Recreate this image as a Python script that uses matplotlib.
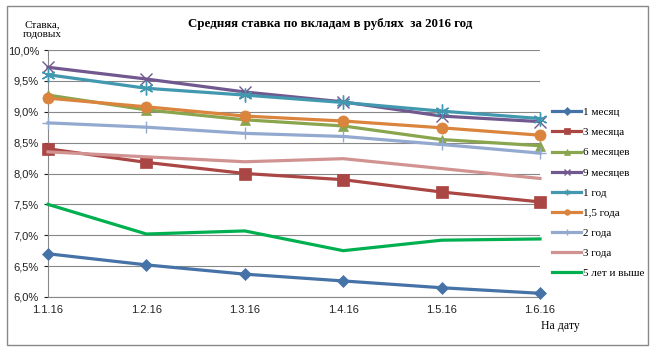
import matplotlib.pyplot as plt
import matplotlib.patches as patches

# Данные (по графику)
dates = ['1.1.16', '1.2.16', '1.3.16', '1.4.16', '1.5.16', '1.6.16']
m1 = [6.70, 6.52, 6.37, 6.26, 6.15, 6.06]
m3 = [8.40, 8.18, 8.00, 7.90, 7.70, 7.54]
m6 = [9.27, 9.03, 8.87, 8.77, 8.55, 8.45]
m9 = [9.72, 9.53, 9.32, 9.16, 8.93, 8.84]
y1 = [9.60, 9.38, 9.27, 9.15, 9.01, 8.89]
y15 = [9.22, 9.08, 8.93, 8.85, 8.74, 8.62]
y2 = [8.82, 8.75, 8.65, 8.60, 8.47, 8.33]
y3 = [8.35, 8.27, 8.19, 8.24, 8.08, 7.92]
y5 = [7.50, 7.02, 7.07, 6.75, 6.92, 6.94]

names = ['1 месяц', '3 месяца', '6 месяцев', '9 месяцев', '1 год',
         '1,5 года', '2 года', '3 года', '5 лет и выше']
series = [m1, m3, m6, m9, y1, y15, y2, y3, y5]
colors = ['#4572A7', '#AA4643', '#89A54E', '#71588F', '#4198AF',
          '#DB843D', '#93A9CF', '#D19392', '#00B050']
markers = ['D', 's', '^', 'x', (6, 2, 0), 'o', '+', None, None]
msizes = [6, 8, 7, 9, 10, 8, 9, 0, 0]

serif = 'Liberation Serif'
sans = 'Liberation Sans'

fig = plt.figure(figsize=(6.6, 3.52), dpi=100)
ax = fig.add_axes([48 / 660, 1 - 297 / 352, 492 / 660, 247 / 352])

# рамка вокруг диаграммы
fig.patches.append(patches.Rectangle((7 / 660, 1 - 345 / 352), 641 / 660, 339 / 352,
                                     transform=fig.transFigure, fill=False,
                                     edgecolor='#888888', linewidth=1))

x = list(range(len(dates)))
for vals, name, c, mk, ms in zip(series, names, colors, markers, msizes):
    thin = mk in ('x', '+') or isinstance(mk, tuple)
    ax.plot(x, vals, color=c, linewidth=2.3, marker=mk, markersize=ms,
            markeredgewidth=1.0 if thin else 0.5,
            markeredgecolor=c, label=name, clip_on=False, zorder=3)

ax.set_xlim(0, 5)
ax.set_ylim(6.0, 10.0)
ax.set_yticks([6.0, 6.5, 7.0, 7.5, 8.0, 8.5, 9.0, 9.5, 10.0])
ax.set_yticklabels(['6,0%', '6,5%', '7,0%', '7,5%', '8,0%', '8,5%', '9,0%', '9,5%', '10,0%'])
ax.set_xticks(x)
ax.set_xticklabels(dates)
ax.tick_params(labelsize=8, colors='#222222', length=3, width=0.8)
ax.tick_params(axis='x', length=0, pad=6)
for lab in ax.get_xticklabels() + ax.get_yticklabels():
    lab.set_family(sans)
ax.grid(axis='y', color='#888888', linewidth=0.8)
ax.set_axisbelow(True)
for s in ['top', 'right']:
    ax.spines[s].set_visible(False)
ax.spines['left'].set_color('#888888')
ax.spines['bottom'].set_color('#888888')

fig.text(330 / 660, 1 - 24 / 352, 'Средняя ставка по вкладам в рублях  за 2016 год',
         ha='center', va='center', fontsize=9.3, fontweight='bold', family=serif)
fig.text(42 / 660, 1 - 30 / 352, 'Ставка,\nгодовых', ha='center', va='center',
         fontsize=8, family=serif, linespacing=1.1)
fig.text(560 / 660, 1 - 326 / 352, 'На дату', ha='center', va='center',
         fontsize=8.5, family=serif)

leg = ax.legend(loc='upper left', bbox_to_anchor=(548 / 660, 1 - 103 / 352),
                bbox_transform=fig.transFigure, frameon=False,
                prop={'family': serif, 'size': 8}, handlelength=2.6,
                labelspacing=0.93, handletextpad=0.15, borderaxespad=0)
for h in leg.legend_handles:
    h.set_markersize(4)

fig.savefig('out.png', dpi=100)
